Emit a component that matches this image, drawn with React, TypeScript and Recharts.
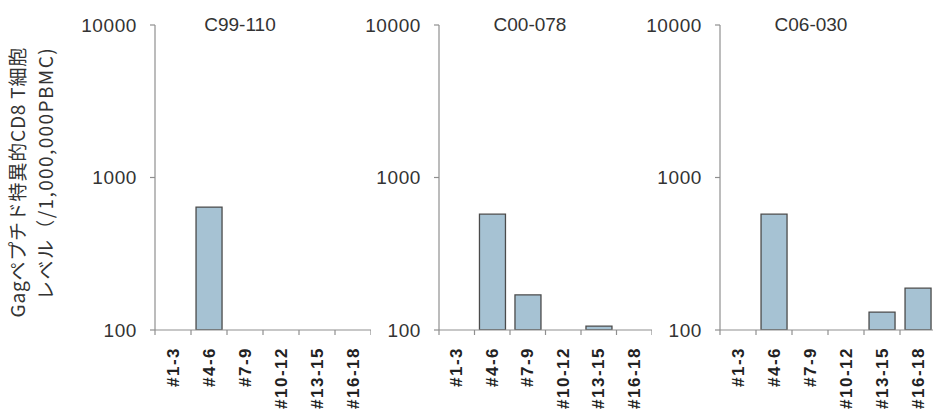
import React from "react";
import { BarChart, Bar, XAxis, YAxis } from "recharts";

const categories = ["#1-3", "#4-6", "#7-9", "#10-12", "#13-15", "#16-18"];
const panelTitles = ["C99-110", "C00-078", "C06-030"];
const c99_110: (number | null)[] = [null, 640, null, null, null, null];
const c00_078: (number | null)[] = [null, 575, 170, null, 106, null];
const c06_030: (number | null)[] = [null, 575, null, null, 131, 188];
const yTicks = [100, 1000, 10000];
const yLabelLine1 = "Gagペプチド特異的CD8 T細胞";
const yLabelLine2 = "レベル（/1,000,000PBMC)";

const build = (vals: (number | null)[]) =>
  categories.map((c, i) => ({ cat: c, v: vals[i] }));

const AXIS = "#8f8f8f";
const TEXT = "#333333";
const FONT = "'Liberation Sans', Arial, sans-serif";
const YW = 80;

const XTick = (props: any) => {
  const { x, y, payload, index, visibleTicksCount, width } = props;
  const band = width / visibleTicksCount;
  const left = x - band / 2;
  const right = x + band / 2;
  return (
    <g>
      <line x1={left} y1={y} x2={left} y2={y + 5} stroke={AXIS} strokeWidth={1.2} />
      {index === visibleTicksCount - 1 && (
        <line x1={right} y1={y} x2={right} y2={y + 5} stroke={AXIS} strokeWidth={1.2} />
      )}
      <text
        transform={`translate(${x},${y + 17}) rotate(-90)`}
        textAnchor="end"
        dominantBaseline="central"
        fill="#222222"
        fontFamily={FONT}
        fontWeight="bold"
        fontSize={17}
        letterSpacing={1.5}
      >
        {payload.value}
      </text>
    </g>
  );
};

const Panel = ({ vals, axisX, plotWidth }: { vals: (number | null)[]; axisX: number; plotWidth: number }) => (
  <div style={{ position: "absolute", left: axisX - YW, top: 0 }}>
    <BarChart
      width={YW + plotWidth}
      height={416}
      data={build(vals)}
      margin={{ top: 25, right: 0, bottom: 0, left: 0 }}
      barCategoryGap="14%"
    >
      <XAxis
        dataKey="cat"
        height={86}
        interval={0}
        tickLine={false}
        tickSize={0}
        tickMargin={0}
        axisLine={{ stroke: AXIS, strokeWidth: 1.2 }}
        tick={<XTick />}
      />
      <YAxis
        width={YW}
        scale="log"
        type="number"
        domain={[100, 10000]}
        ticks={yTicks}
        allowDataOverflow
        tickSize={5}
        tickMargin={13}
        axisLine={{ stroke: AXIS, strokeWidth: 1.2 }}
        tickLine={{ stroke: AXIS, strokeWidth: 1.2 }}
        tick={{ fill: TEXT, fontSize: 19, fontFamily: FONT, letterSpacing: 0.6 }}
      />
      <Bar dataKey="v" fill="#a6c2d3" stroke="#4b4b4b" strokeWidth={1.3} isAnimationActive={false} />
    </BarChart>
  </div>
);

export default function App() {
  return (
    <div
      style={{
        position: "absolute",
        left: 0,
        top: 0,
        width: 933,
        height: 416,
        overflow: "hidden",
        background: "#ffffff",
      }}
    >
      <Panel vals={c99_110} axisX={155} plotWidth={216} />
      <Panel vals={c00_078} axisX={439} plotWidth={213} />
      <Panel vals={c06_030} axisX={720} plotWidth={216} />
      <svg width={933} height={416} style={{ position: "absolute", left: 0, top: 0, pointerEvents: "none" }}>
        <text x={240} y={24} textAnchor="middle" dominantBaseline="central" fontSize={19} fontFamily={FONT} fill={TEXT}>
          {panelTitles[0]}
        </text>
        <text x={530} y={24} textAnchor="middle" dominantBaseline="central" fontSize={19} fontFamily={FONT} fill={TEXT}>
          {panelTitles[1]}
        </text>
        <text x={811} y={24} textAnchor="middle" dominantBaseline="central" fontSize={19} fontFamily={FONT} fill={TEXT}>
          {panelTitles[2]}
        </text>
        <text
          transform="translate(16,47) rotate(-90)"
          textAnchor="end"
          dominantBaseline="central"
          fontSize={19}
          letterSpacing={0.8}
          fontFamily="'Noto Sans CJK JP', sans-serif"
          fill={TEXT}
        >
          {yLabelLine1}
        </text>
        <text
          transform="translate(44,47) rotate(-90)"
          textAnchor="end"
          dominantBaseline="central"
          fontSize={19}
          letterSpacing={1.4}
          fontFamily="'Noto Sans CJK JP', sans-serif"
          fill={TEXT}
        >
          {yLabelLine2}
        </text>
      </svg>
    </div>
  );
}
